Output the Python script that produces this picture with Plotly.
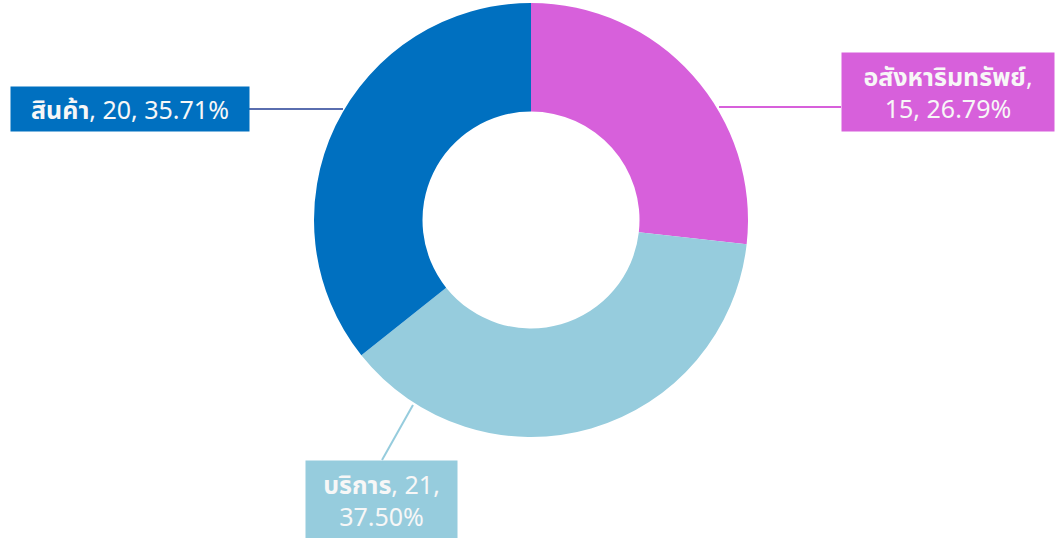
import plotly.graph_objects as go

categories = ["อสังหาริมทรัพย์", "บริการ", "สินค้า"]
values = [15, 21, 20]
colors = ["#D760DB", "#96CCDD", "#0070C0"]
line_colors = ["#D760DB", "#96CCDD", "#5A6EAF"]

total = sum(values)
pcts = [v / total * 100 for v in values]

W, H = 1055, 538
cx, cy, R = 531, 220, 217  # pixel layout of the donut

fig = go.Figure(go.Pie(
    labels=categories,
    values=values,
    hole=0.5,
    sort=False,
    direction="clockwise",
    rotation=0,
    marker=dict(colors=colors, line=dict(width=0)),
    textinfo="none",
    hoverinfo="label+value+percent",
    domain=dict(x=[(cx - R) / W, (cx + R) / W], y=[(H - cy - R) / H, (H - cy + R) / H]),
))

FONT = "'Noto Sans', 'Noto Sans Thai', sans-serif"

def px_x(x):
    return x / W

def px_y(y):
    return 1 - y / H

# label boxes: (left, top, width, height) in px, and text
label_specs = [
    (841, 52, 212, 78, f"<b>{categories[0]}</b>,<br>{values[0]}, {pcts[0]:.2f}%"),
    (305, 460, 151, 78, f"<b>{categories[1]}</b>, {values[1]},<br>{pcts[1]:.2f}%"),
    (10, 86, 238, 44, f"<b>{categories[2]}</b>, {values[2]}, {pcts[2]:.2f}%"),
]
for (lx, ty, w, h, txt), c in zip(label_specs, colors):
    fig.add_annotation(
        x=px_x(lx), y=px_y(ty), xref="paper", yref="paper",
        xanchor="left", yanchor="top", showarrow=False,
        width=w, height=h, bgcolor=c, borderpad=0, align="center", valign="middle",
        text=txt, font=dict(family=FONT, size=25, color="#F7F7F7"),
    )

# leader lines (px): from slice edge to label box
leaders = [
    ((719, 107), (841, 107)),
    ((413, 405), (382, 460)),
    ((343, 109), (248, 109)),
]
for ((x0, y0), (x1, y1)), lc in zip(leaders, line_colors):
    fig.add_shape(type="line", xref="paper", yref="paper",
                  x0=px_x(x0), y0=px_y(y0), x1=px_x(x1), y1=px_y(y1),
                  line=dict(color=lc, width=2))

fig.update_layout(
    width=W, height=H,
    margin=dict(l=0, r=0, t=0, b=0),
    paper_bgcolor="white",
    plot_bgcolor="white",
    showlegend=False,
)

fig.write_html("out.html", config={"displayModeBar": False},
               post_script="document.body.style.margin='0';document.body.style.overflow='hidden';")
